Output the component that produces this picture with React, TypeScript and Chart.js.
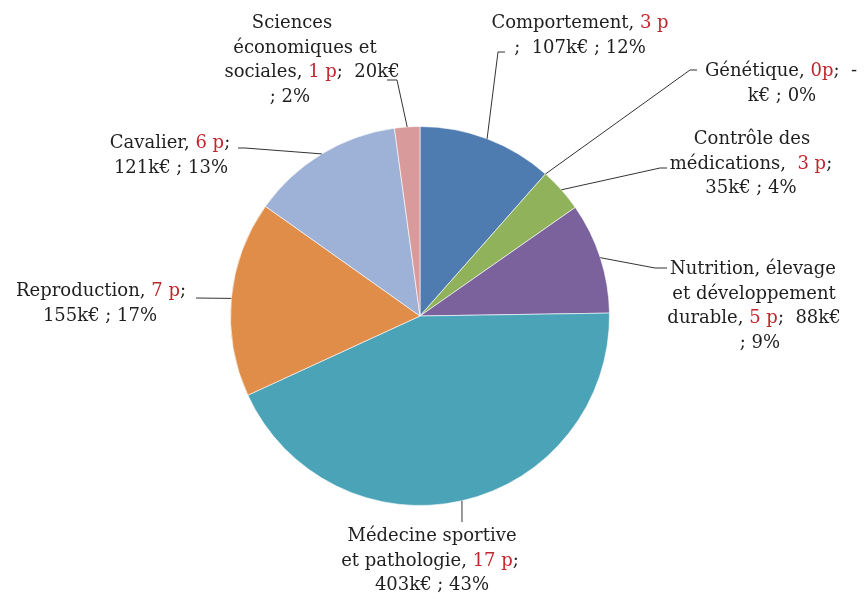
import React, { useEffect, useRef } from "react";
import { Chart, registerables } from "chart.js";

Chart.register(...registerables);

const categories = [
  "Comportement",
  "Génétique",
  "Contrôle des médications",
  "Nutrition, élevage et développement durable",
  "Médecine sportive et pathologie",
  "Reproduction",
  "Cavalier",
  "Sciences économiques et sociales",
];
const amountsK = [107, 0, 35, 88, 403, 155, 121, 20];
const projects = [3, 0, 3, 5, 17, 7, 6, 1];
const percents = [12, 0, 4, 9, 43, 17, 13, 2];
const colors = ["#4E7CB0", "#C0504D", "#90B25B", "#7C629C", "#4BA3B8", "#DF8D48", "#9DB2D6", "#D89A9A"];

// label line templates: {p} = projects (red), {k} = amount, {pct} = percent
const labelLines: string[][] = [
  ["Comportement, {p}", ";  {k}k€ ; {pct}%"],
  ["Génétique, {p};  {k}", "k€ ; {pct}%"],
  ["Contrôle des", "médications,  {p};", "{k}k€ ; {pct}%"],
  ["Nutrition, élevage", "et développement", "durable, {p};  {k}k€", "; {pct}%"],
  ["Médecine sportive", "et pathologie, {p};", "{k}k€ ; {pct}%"],
  ["Reproduction, {p};", "{k}k€ ; {pct}%"],
  ["Cavalier, {p};", "{k}k€ ; {pct}%"],
  ["Sciences", "économiques et", "sociales, {p};  {k}k€", "; {pct}%"],
];

// layout: center x of each line, baseline y of first line
const labelLayout = [
  { xs: [580, 580], y: 28 },
  { xs: [781, 782], y: 76 },
  { xs: [752, 751, 751], y: 144 },
  { xs: [753, 754, 754, 760], y: 274 },
  { xs: [432, 430, 432], y: 541 },
  { xs: [101, 100], y: 296 },
  { xs: [170, 171], y: 148 },
  { xs: [292, 305, 312, 290], y: 28 },
];
const lineH = 24.5;

// leader line path (after the arc point)
const leaders: number[][][] = [
  [[498, 52], [505, 52]],
  [[690, 70], [697, 70]],
  [[660, 168], [667, 168]],
  [[655, 268], [667, 268]],
  [[462, 522]],
  [[196, 298]],
  [[245, 148], [238, 148]],
  [[397, 80], [387, 80]],
];

const FONT = '18px "DejaVu Serif"';
const TEXT = "#1f1f1f";
const RED = "#C0272D";

function fmtP(n: number) {
  return n === 0 ? "0p" : `${n} p`;
}
function fmtK(n: number) {
  return n === 0 ? "-" : String(n);
}

const labelPlugin = {
  id: "customLabels",
  afterDraw(chart: any) {
    const ctx = chart.ctx;
    const meta = chart.getDatasetMeta(0);
    ctx.save();
    ctx.font = FONT;
    ctx.textBaseline = "alphabetic";
    meta.data.forEach((arc: any, i: number) => {
      const { x, y, startAngle, endAngle, outerRadius } = arc.getProps(
        ["x", "y", "startAngle", "endAngle", "outerRadius"],
        true
      );
      const mid = (startAngle + endAngle) / 2;
      const px = x + Math.cos(mid) * outerRadius;
      const py = y + Math.sin(mid) * outerRadius;
      ctx.strokeStyle = "#333333";
      ctx.lineWidth = 1;
      ctx.beginPath();
      ctx.moveTo(px, py);
      leaders[i].forEach(([lx, ly]) => ctx.lineTo(lx, ly));
      ctx.stroke();

      const lay = labelLayout[i];
      labelLines[i].forEach((tpl, li) => {
        const parts: { t: string; red: boolean }[] = [];
        const re = /\{(p|k|pct)\}/g;
        let last = 0;
        let m: RegExpExecArray | null;
        while ((m = re.exec(tpl))) {
          if (m.index > last) parts.push({ t: tpl.slice(last, m.index), red: false });
          if (m[1] === "p") parts.push({ t: fmtP(projects[i]), red: true });
          else if (m[1] === "k") parts.push({ t: fmtK(amountsK[i]), red: false });
          else parts.push({ t: String(percents[i]), red: false });
          last = m.index + m[0].length;
        }
        if (last < tpl.length) parts.push({ t: tpl.slice(last), red: false });
        const total = parts.reduce((s, p) => s + ctx.measureText(p.t).width, 0);
        let cx = lay.xs[li] - total / 2;
        const by = lay.y + li * lineH;
        parts.forEach((p) => {
          ctx.fillStyle = p.red ? RED : TEXT;
          ctx.fillText(p.t, cx, by);
          cx += ctx.measureText(p.t).width;
        });
      });
    });
    ctx.restore();
  },
};

export default function App() {
  const ref = useRef<HTMLCanvasElement>(null);
  useEffect(() => {
    if (!ref.current) return;
    const chart = new Chart(ref.current, {
      type: "pie",
      data: {
        labels: categories,
        datasets: [
          {
            data: amountsK,
            backgroundColor: colors,
            borderColor: "rgba(255,255,255,0.6)",
            borderWidth: 1,
          },
        ],
      },
      options: {
        animation: false,
        responsive: true,
        maintainAspectRatio: false,
        layout: { padding: { left: 230, right: 254, top: 126, bottom: 87 } },
        plugins: {
          legend: { display: false },
          tooltip: { enabled: false },
        },
      },
      plugins: [labelPlugin],
    });
    return () => chart.destroy();
  }, []);
  return (
    <div style={{ position: "fixed", left: 0, top: 0, width: 864, height: 593, background: "#fff" }}>
      <canvas ref={ref} />
    </div>
  );
}
